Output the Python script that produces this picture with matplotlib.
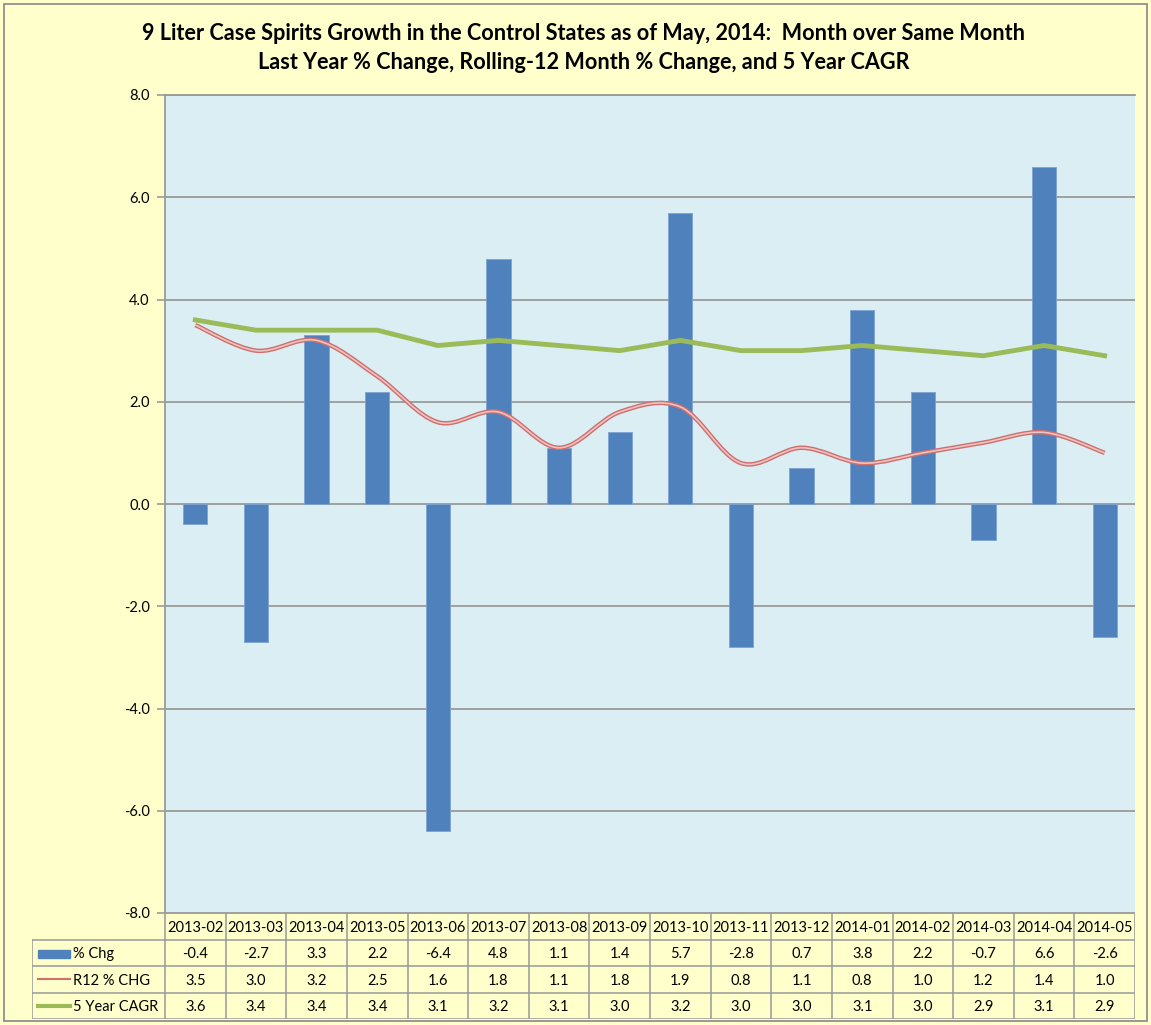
import matplotlib
matplotlib.use("Agg")
import matplotlib.pyplot as plt
from matplotlib.path import Path
from matplotlib.patches import PathPatch, Rectangle
import numpy as np

months = ["2013-02", "2013-03", "2013-04", "2013-05", "2013-06", "2013-07", "2013-08", "2013-09",
          "2013-10", "2013-11", "2013-12", "2014-01", "2014-02", "2014-03", "2014-04", "2014-05"]
pct_chg = [-0.4, -2.7, 3.3, 2.2, -6.4, 4.8, 1.1, 1.4, 5.7, -2.8, 0.7, 3.8, 2.2, -0.7, 6.6, -2.6]
r12_chg = [3.5, 3.0, 3.2, 2.5, 1.6, 1.8, 1.1, 1.8, 1.9, 0.8, 1.1, 0.8, 1.0, 1.2, 1.4, 1.0]
cagr_5yr = [3.6, 3.4, 3.4, 3.4, 3.1, 3.2, 3.1, 3.0, 3.2, 3.0, 3.0, 3.1, 3.0, 2.9, 3.1, 2.9]
series_names = ["% Chg", "R12 % CHG", "5 Year CAGR"]
title = ("9 Liter Case Spirits Growth in the Control States as of May, 2014:  Month over Same Month\n"
         "Last Year % Change, Rolling-12 Month % Change, and 5 Year CAGR")

BG = "#FFFFCC"
PLOT_BG = "#DBEEF4"
BLUE = "#4F81BD"
GREEN = "#9BBB59"
RED = "#D0706E"
GRID = "#9A9A9A"
FONT = "Lato"

W, H = 1151, 1025
fig = plt.figure(figsize=(W / 100, H / 100), dpi=100, facecolor=BG)

# outer chart border
fig.patches.append(Rectangle((4 / W, 4 / H), 1 - 8 / W, 1 - 8 / H, transform=fig.transFigure,
                             fill=False, edgecolor="#888888", lw=1.2))

left, right, top, bottom = 165, 1135, 95, 913
ax = fig.add_axes([left / W, 1 - bottom / H, (right - left) / W, (bottom - top) / H])
ax.set_facecolor(PLOT_BG)

x = np.arange(len(months))
ax.bar(x, pct_chg, width=0.4, color=BLUE, edgecolor="#7FA3D1", lw=0.6, zorder=3)


def smooth_path(xs, ys):
    # Excel-style smoothed line: cubic bezier through the points
    pts = np.column_stack([xs, ys]).astype(float)
    verts = [pts[0]]
    codes = [Path.MOVETO]
    n = len(pts)
    for i in range(n - 1):
        p0 = pts[i - 1] if i > 0 else pts[i]
        p1, p2 = pts[i], pts[i + 1]
        p3 = pts[i + 2] if i + 2 < n else pts[i + 1]
        c1 = p1 + (p2 - p0) / 6.0
        c2 = p2 - (p3 - p1) / 6.0
        verts += [c1, c2, p2]
        codes += [Path.CURVE4] * 3
    return Path(verts, codes)


rpath = smooth_path(x, r12_chg)
ax.add_patch(PathPatch(rpath, fill=False, edgecolor="#CF6E6B", lw=3.2, zorder=4))
ax.add_patch(PathPatch(rpath, fill=False, edgecolor="#EDC4C3", lw=1.2, zorder=5))
ax.plot(x, cagr_5yr, color=GREEN, lw=3.5, zorder=6, solid_joinstyle="round")

ax.set_xlim(-0.5, len(months) - 0.5)
ax.set_ylim(-8, 8)
ax.set_yticks(np.arange(-8, 8.1, 2))
ax.set_yticklabels([f"{v:.1f}" for v in np.arange(-8, 8.1, 2)], fontfamily=FONT, fontsize=10.5)
ax.set_xticks([])
ax.grid(axis="y", color=GRID, lw=1.3, zorder=1)
ax.tick_params(axis="y", length=6, color=GRID, width=1.2, pad=5)
for s in ["right", "bottom"]:
    ax.spines[s].set_visible(False)
ax.spines["top"].set_color(GRID)
ax.spines["top"].set_linewidth(1.3)
ax.spines["left"].set_color(GRID)
ax.spines["left"].set_linewidth(1.3)

fig.text(584 / W, 1 - 48 / H, title, ha="center", va="center", fontsize=15.6, fontweight="bold",
         fontfamily=FONT, linespacing=1.5)

# data table under the chart
colw = (right - left) / len(months)
tleft = 32
tbottom = 1019
tax = fig.add_axes([tleft / W, 1 - tbottom / H, (right - tleft) / W, (tbottom - bottom) / H])
tax.set_facecolor("none")
x0 = -0.5 - (left - tleft) / colw
tax.set_xlim(x0, len(months) - 0.5)
tax.set_ylim(4, 0)
tax.axis("off")
lc = "#999999"
tax.plot([-0.5, len(months) - 0.5], [0, 0], color=lc, lw=1.3)
for r in range(1, 5):
    tax.plot([x0, len(months) - 0.5], [r, r], color=lc, lw=1.1)
for i in range(len(months) + 1):
    tax.plot([i - 0.5, i - 0.5], [0, 4], color=lc, lw=1.1)
tax.plot([x0, x0], [1, 4], color=lc, lw=1.1)

for i, m in enumerate(months):
    tax.text(i, 0.55, m, ha="center", va="center", fontsize=10.5, fontfamily=FONT)
rows = [pct_chg, r12_chg, cagr_5yr]
for r, vals in enumerate(rows):
    for i, v in enumerate(vals):
        tax.text(i, r + 1.55, f"{v:.1f}", ha="center", va="center", fontsize=10.5, fontfamily=FONT)

sx0 = x0 + 6 / colw
sx1 = x0 + 38 / colw
tax.add_patch(Rectangle((sx0, 1.38), sx1 - sx0, 0.3, color=BLUE))
tax.plot([sx0, sx1], [2.5, 2.5], color=RED, lw=1.5)
tax.plot([sx0, sx1], [3.5, 3.5], color=GREEN, lw=3)
for r, name in enumerate(series_names):
    tax.text(sx1 + 3 / colw, r + 1.55, name, ha="left", va="center", fontsize=10.5, fontfamily=FONT)

fig.savefig("out.png", dpi=100, facecolor=BG)
